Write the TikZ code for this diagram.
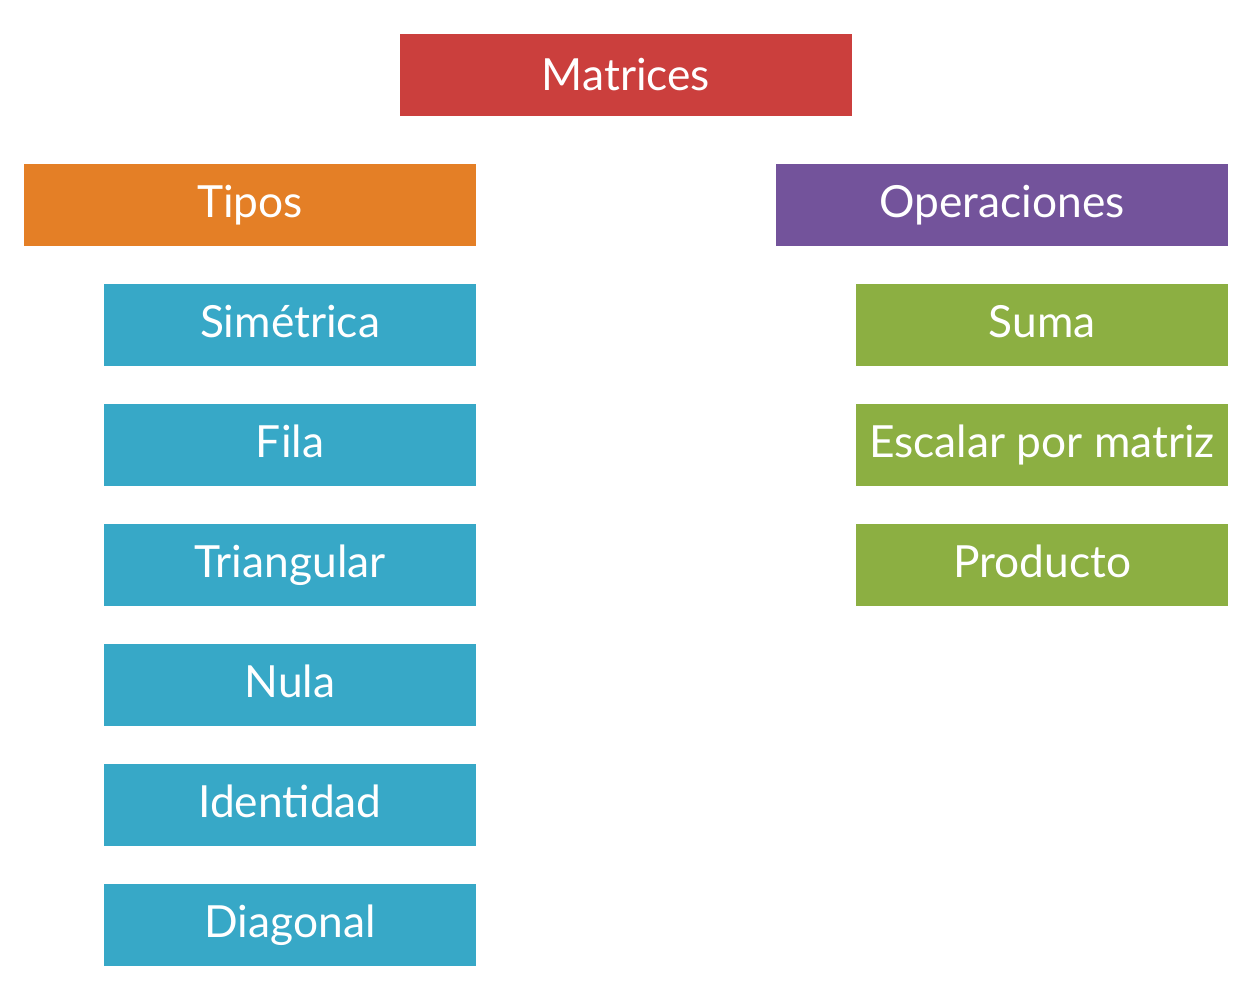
\documentclass[tikz,border=0pt]{standalone}
\usepackage{fontspec}
\setmainfont{Lato}
\usepackage{tikz}
\usepackage{xcolor}
\usetikzlibrary{positioning}
\definecolor{rojo}{HTML}{CB3F3D}
\definecolor{naranja}{HTML}{E47F26}
\definecolor{morado}{HTML}{73539B}
\definecolor{azul}{HTML}{37A8C7}
\definecolor{verde}{HTML}{8CAF42}
\tikzstyle{caja} = [rectangle,
                    minimum height=1.64cm,
                    text centered,
                    inner sep=0pt,
                    text=white,
                    font=\fontsize{25.2}{30}\selectfont]
\tikzstyle{renglon} = [execute at begin node={\vphantom{lg}}]
\tikzstyle{titulo} = [caja,
                      minimum width=9.04cm,
                      fill=rojo]
\tikzstyle{rama} = [caja,
                    renglon,
                    minimum width=9.04cm]
\tikzstyle{tipo} = [caja,
                    renglon,
                    minimum width=7.44cm,
                    fill=azul]
\tikzstyle{operacion} = [caja,
                         renglon,
                         minimum width=7.44cm,
                         fill=verde]
\begin{document}
\begin{tikzpicture}[node distance=2.4cm]
    \useasboundingbox (0,0) rectangle (25.08,-20);
    \node (matrices)    [titulo] at (12.52,-1.5)               {Matrices};
    \node (tipos)       [rama, fill=naranja] at (5.0,-4.1)     {Tipos};
    \node (operaciones) [rama, fill=morado]  at (20.04,-4.1)   {Operaciones};

    \node (simetrica)   [tipo, below of=tipos, xshift=0.8cm]   {Simétrica};
    \node (fila)        [tipo, below of=simetrica]             {Fila};
    \node (triangular)  [tipo, below of=fila]                  {Triangular};
    \node (nula)        [tipo, below of=triangular]            {Nula};
    \node (identidad)   [tipo, below of=nula]                  {Identidad};
    \node (diagonal)    [tipo, below of=identidad]             {Diagonal};

    \node (suma)        [operacion, below of=operaciones, xshift=0.8cm] {Suma};
    \node (escalar)     [operacion, below of=suma]                      {Escalar por matriz};
    \node (producto)    [operacion, below of=escalar]                   {Producto};
\end{tikzpicture}
\end{document}
